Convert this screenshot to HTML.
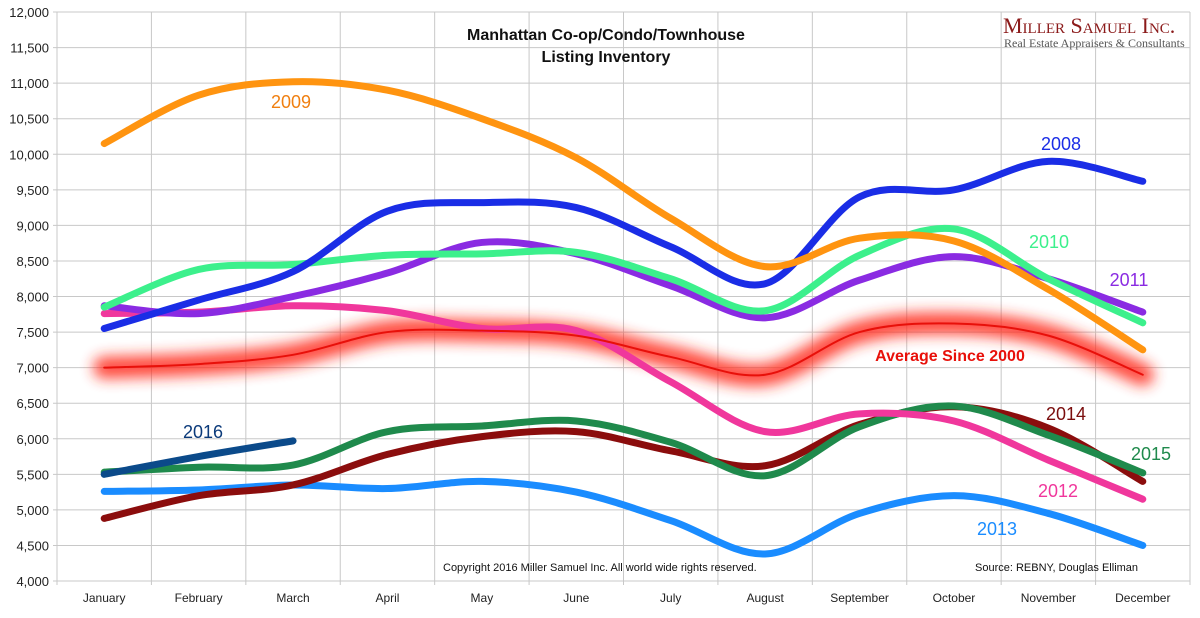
<!DOCTYPE html>
<html><head><meta charset="utf-8"><style>
body{margin:0;background:#fff;}
svg text{font-family:"Liberation Sans",Arial,sans-serif;}
</style></head><body>
<svg id="chart" width="1200" height="613" xmlns="http://www.w3.org/2000/svg">
<defs><filter id="glow" x="-10%" y="-50%" width="120%" height="200%"><feGaussianBlur stdDeviation="7"/></filter></defs>
<g id="grid"></g><g id="axes"></g><g id="series"></g><g id="labels"></g>
<text x="606" y="40" text-anchor="middle" font-size="16" font-weight="bold" fill="#111">Manhattan Co-op/Condo/Townhouse</text>
<text x="606" y="62" text-anchor="middle" font-size="16" font-weight="bold" fill="#111">Listing Inventory</text>
<text x="1003" y="33" font-size="22" fill="#8b1a1a" style="font-family:'Liberation Serif',serif;font-variant:small-caps">Miller Samuel Inc.</text>
<text x="1004" y="47" font-size="12" fill="#555" style="font-family:'Liberation Serif',serif">Real Estate Appraisers &amp; Consultants</text>
<text x="443" y="571" font-size="11" fill="#111">Copyright 2016 Miller Samuel Inc.  All world wide rights reserved.</text>
<text x="975" y="571" font-size="11" fill="#111">Source: REBNY, Douglas Elliman</text>
</svg>
<script>
const months=["January","February","March","April","May","June","July","August","September","October","November","December"];
const yTicks=[4000,4500,5000,5500,6000,6500,7000,7500,8000,8500,9000,9500,10000,10500,11000,11500,12000];
const s2008=[7550,7950,8350,9200,9320,9250,8700,8180,9400,9500,9900,9620];
const s2009=[10150,10830,11020,10900,10500,9950,9100,8420,8820,8780,8100,7250];
const s2010=[7850,8380,8450,8580,8600,8620,8250,7800,8580,8950,8250,7630];
const s2011=[7870,7760,8000,8330,8760,8600,8150,7700,8230,8560,8250,7780];
const s2012=[7760,7780,7870,7800,7550,7520,6800,6100,6350,6250,5700,5150];
const sAvg=[7000,7050,7180,7500,7520,7450,7150,6900,7500,7620,7450,6900];
const s2013=[5260,5280,5350,5300,5400,5250,4850,4380,4950,5200,4950,4500];
const s2014=[4880,5200,5350,5780,6030,6100,5830,5620,6200,6450,6150,5400];
const s2015=[5530,5600,5630,6100,6180,6250,5950,5480,6170,6460,6050,5520];
const s2016=[5500,5750,5970];
const NS="http://www.w3.org/2000/svg";
const L=57,R=1190,T=12,B=581,cw=(R-L)/12;
const x=i=>L+cw*(i+0.5);
const y=v=>B-(v-4000)/8000*(B-T);
function mk(tag,attrs,parent,txt){const e=document.createElementNS(NS,tag);for(const k in attrs)e.setAttribute(k,attrs[k]);if(txt!==undefined)e.textContent=txt;document.getElementById(parent).appendChild(e);return e;}
yTicks.forEach(v=>{
 const l=mk("line",{x1:L-4,x2:R,y1:y(v),y2:y(v),stroke:"#c8c8c8","stroke-width":1},"grid");
 
 
 const t=mk("text",{x:L-8,y:y(v)+5,"text-anchor":"end","font-size":13,fill:"#222"},"axes",v.toLocaleString("en-US"));
 
 
});
for(let i=0;i<=12;i++){
 const l=mk("line",{x1:L+cw*i,x2:L+cw*i,y1:T,y2:B+4,stroke:"#c8c8c8","stroke-width":1},"grid");
 
 
}
months.forEach((m,i)=>{
 const t=mk("text",{x:x(i),y:B+21,"text-anchor":"middle","font-size":12,fill:"#222"},"axes",m);
 
 
});
function path(vals){
 const p=vals.map((v,i)=>[x(i),y(v)]);
 let d="M"+p[0][0]+","+p[0][1];
 for(let i=0;i<p.length-1;i++){
  const p0=p[Math.max(0,i-1)],p1=p[i],p2=p[i+1],p3=p[Math.min(p.length-1,i+2)];
  const c1=[p1[0]+(p2[0]-p0[0])/6,p1[1]+(p2[1]-p0[1])/6];
  const c2=[p2[0]-(p3[0]-p1[0])/6,p2[1]-(p3[1]-p1[1])/6];
  d+=` C${c1[0]},${c1[1]} ${c2[0]},${c2[1]} ${p2[0]},${p2[1]}`;
 }
 return d;
}
const glow=mk("path",{d:path(sAvg),fill:"none",stroke:"#ff2a1a","stroke-width":22,"stroke-linecap":"round",filter:"url(#glow)",opacity:0.85},"series");


const series=[
 ["series-2013",s2013,"#1a8cff"],["series-2014",s2014,"#8b0d0d"],["series-2015",s2015,"#1f8a4c"],
 ["series-2012",s2012,"#f0379c"],["series-2011",s2011,"#8a2be2"],["series-2010",s2010,"#3cf08c"],
 ["series-2008",s2008,"#1a2de6"],["series-2009",s2009,"#ff9410"],["series-average",sAvg,"#e8100a"],["series-2016",s2016,"#0b4a8a"]];
series.forEach(([n,vals,c])=>{
 const w=n==="series-average"?2:7;
 const e=mk("path",{d:path(vals),fill:"none",stroke:c,"stroke-width":w,"stroke-linecap":"round"},"series");
 
 
});
const labs=[["label-2009","2009",291,108,"#f07f10"],["label-2008","2008",1061,150,"#1a2de6"],["label-2010","2010",1049,248,"#3cf08c"],
 ["label-2011","2011",1129,286,"#8a2be2"],["label-2014","2014",1066,420,"#7a0d0d"],["label-2015","2015",1151,460,"#1f8a4c"],
 ["label-2012","2012",1058,497,"#f0379c"],["label-2013","2013",997,535,"#1a8cff"],["label-2016","2016",203,438,"#0b3a7a"]];
labs.forEach(([n,t,lx,ly,c])=>{
 const e=mk("text",{x:lx,y:ly,"text-anchor":"middle","font-size":18,fill:c},"labels",t);
 
 
});
const a=mk("text",{x:950,y:361,"text-anchor":"middle","font-size":16,"font-weight":"bold",fill:"#e8100a"},"labels","Average  Since 2000");


</script>
</body></html>
